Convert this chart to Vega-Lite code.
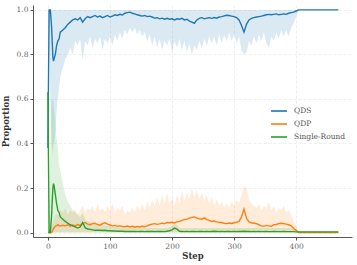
{
  "$schema": "https://vega.github.io/schema/vega-lite/v6.json",
  "autosize": {"type": "none"},
  "padding": {"left": 33, "top": 5, "right": 5, "bottom": 28},
  "width": 319,
  "height": 232,
  "background": "white",
  "config": {
    "font": "DejaVu Serif",
    "view": {"stroke": null},
    "axis": {
      "labelFont": "DejaVu Serif", "labelFontSize": 7.5, "labelColor": "#666",
      "titleFont": "DejaVu Serif", "titleFontSize": 8.5, "titleFontWeight": "bold", "titleColor": "#333",
      "domainColor": "#555", "tickColor": "#555", "tickSize": 3,
      "gridColor": "#ebebeb", "gridDash": [3, 2], "gridWidth": 0.8
    },
    "legend": {"labelFont": "DejaVu Serif", "labelFontSize": 7.5, "labelColor": "#555"}
  },
  "data": {"values": [
    {"s":0,"a":0.38,"al":0.38,"b":0,"bh":0,"c":0.63,"ch":0.63},
    {"s":2,"a":1.0,"al":0.95,"b":0,"bh":0,"c":0.0,"ch":0.05},
    {"s":4,"a":1.0,"al":0.6,"b":0,"bh":0.02,"c":0.0,"ch":0.4},
    {"s":6,"a":0.92,"al":0.4,"b":0.0,"bh":0.03,"c":0.08,"ch":0.6},
    {"s":8,"a":0.79,"al":0.35,"b":0.01,"bh":0.05,"c":0.2,"ch":0.6},
    {"s":9,"a":0.77,"al":0.4,"b":0.02,"bh":0.06,"c":0.22,"ch":0.58},
    {"s":10,"a":0.78,"al":0.4,"b":0.02,"bh":0.06,"c":0.21,"ch":0.55},
    {"s":12,"a":0.8,"al":0.45,"b":0.03,"bh":0.08,"c":0.17,"ch":0.5},
    {"s":14,"a":0.84,"al":0.55,"b":0.03,"bh":0.08,"c":0.13,"ch":0.42},
    {"s":16,"a":0.86,"al":0.6,"b":0.035,"bh":0.08,"c":0.1,"ch":0.38},
    {"s":18,"a":0.87,"al":0.65,"b":0.03,"bh":0.09,"c":0.09,"ch":0.3},
    {"s":20,"a":0.90,"al":0.70,"b":0.030,"bh":0.10,"c":0.070,"ch":0.28},
    {"s":24,"a":0.91,"al":0.74,"b":0.033,"bh":0.09,"c":0.060,"ch":0.22},
    {"s":28,"a":0.92,"al":0.78,"b":0.030,"bh":0.11,"c":0.050,"ch":0.17},
    {"s":32,"a":0.935,"al":0.80,"b":0.035,"bh":0.08,"c":0.042,"ch":0.14},
    {"s":36,"a":0.945,"al":0.83,"b":0.028,"bh":0.10,"c":0.035,"ch":0.12},
    {"s":40,"a":0.955,"al":0.80,"b":0.034,"bh":0.09,"c":0.030,"ch":0.10},
    {"s":44,"a":0.96,"al":0.86,"b":0.030,"bh":0.11,"c":0.025,"ch":0.09},
    {"s":48,"a":0.955,"al":0.84,"b":0.036,"bh":0.08,"c":0.020,"ch":0.08},
    {"s":52,"a":0.965,"al":0.87,"b":0.032,"bh":0.10,"c":0.025,"ch":0.07},
    {"s":56,"a":0.945,"al":0.77,"b":0.040,"bh":0.12,"c":0.045,"ch":0.09},
    {"s":60,"a":0.96,"al":0.86,"b":0.045,"bh":0.09,"c":0.022,"ch":0.06},
    {"s":64,"a":0.97,"al":0.84,"b":0.038,"bh":0.11,"c":0.016,"ch":0.05},
    {"s":68,"a":0.965,"al":0.88,"b":0.035,"bh":0.10,"c":0.014,"ch":0.05},
    {"s":72,"a":0.97,"al":0.83,"b":0.040,"bh":0.12,"c":0.012,"ch":0.045},
    {"s":76,"a":0.975,"al":0.87,"b":0.042,"bh":0.09,"c":0.010,"ch":0.04},
    {"s":80,"a":0.968,"al":0.85,"b":0.036,"bh":0.13,"c":0.011,"ch":0.04},
    {"s":84,"a":0.972,"al":0.88,"b":0.033,"bh":0.10,"c":0.010,"ch":0.035},
    {"s":88,"a":0.965,"al":0.82,"b":0.040,"bh":0.11,"c":0.009,"ch":0.035},
    {"s":92,"a":0.97,"al":0.87,"b":0.044,"bh":0.09,"c":0.010,"ch":0.03},
    {"s":96,"a":0.975,"al":0.85,"b":0.038,"bh":0.12,"c":0.008,"ch":0.03},
    {"s":100,"a":0.968,"al":0.88,"b":0.034,"bh":0.10,"c":0.008,"ch":0.03},
    {"s":104,"a":0.972,"al":0.84,"b":0.030,"bh":0.13,"c":0.007,"ch":0.025},
    {"s":108,"a":0.978,"al":0.89,"b":0.032,"bh":0.09,"c":0.007,"ch":0.025},
    {"s":112,"a":0.975,"al":0.86,"b":0.028,"bh":0.11,"c":0.006,"ch":0.025},
    {"s":116,"a":0.98,"al":0.90,"b":0.030,"bh":0.10,"c":0.006,"ch":0.02},
    {"s":120,"a":0.977,"al":0.87,"b":0.027,"bh":0.12,"c":0.006,"ch":0.02},
    {"s":124,"a":0.985,"al":0.91,"b":0.026,"bh":0.08,"c":0.005,"ch":0.02},
    {"s":128,"a":0.988,"al":0.89,"b":0.029,"bh":0.10,"c":0.005,"ch":0.02},
    {"s":132,"a":0.99,"al":0.92,"b":0.025,"bh":0.09,"c":0.005,"ch":0.02},
    {"s":136,"a":0.985,"al":0.90,"b":0.028,"bh":0.11,"c":0.005,"ch":0.02},
    {"s":140,"a":0.982,"al":0.92,"b":0.024,"bh":0.09,"c":0.005,"ch":0.02},
    {"s":144,"a":0.978,"al":0.89,"b":0.027,"bh":0.12,"c":0.004,"ch":0.02},
    {"s":148,"a":0.975,"al":0.91,"b":0.025,"bh":0.10,"c":0.005,"ch":0.02},
    {"s":152,"a":0.972,"al":0.88,"b":0.028,"bh":0.13,"c":0.005,"ch":0.02},
    {"s":156,"a":0.975,"al":0.90,"b":0.026,"bh":0.10,"c":0.004,"ch":0.02},
    {"s":160,"a":0.97,"al":0.86,"b":0.030,"bh":0.14,"c":0.005,"ch":0.02},
    {"s":164,"a":0.972,"al":0.89,"b":0.035,"bh":0.11,"c":0.005,"ch":0.02},
    {"s":168,"a":0.968,"al":0.84,"b":0.038,"bh":0.15,"c":0.005,"ch":0.02},
    {"s":172,"a":0.963,"al":0.88,"b":0.040,"bh":0.12,"c":0.004,"ch":0.02},
    {"s":176,"a":0.965,"al":0.83,"b":0.037,"bh":0.16,"c":0.005,"ch":0.02},
    {"s":180,"a":0.96,"al":0.87,"b":0.039,"bh":0.12,"c":0.005,"ch":0.02},
    {"s":184,"a":0.963,"al":0.82,"b":0.042,"bh":0.17,"c":0.005,"ch":0.02},
    {"s":188,"a":0.958,"al":0.86,"b":0.040,"bh":0.13,"c":0.004,"ch":0.02},
    {"s":192,"a":0.962,"al":0.84,"b":0.045,"bh":0.18,"c":0.006,"ch":0.02},
    {"s":196,"a":0.958,"al":0.87,"b":0.044,"bh":0.13,"c":0.008,"ch":0.025},
    {"s":200,"a":0.96,"al":0.81,"b":0.046,"bh":0.16,"c":0.012,"ch":0.03},
    {"s":204,"a":0.955,"al":0.86,"b":0.043,"bh":0.12,"c":0.020,"ch":0.04},
    {"s":208,"a":0.96,"al":0.83,"b":0.048,"bh":0.17,"c":0.015,"ch":0.035},
    {"s":212,"a":0.958,"al":0.87,"b":0.050,"bh":0.13,"c":0.006,"ch":0.02},
    {"s":216,"a":0.962,"al":0.82,"b":0.055,"bh":0.19,"c":0.005,"ch":0.02},
    {"s":220,"a":0.955,"al":0.86,"b":0.058,"bh":0.14,"c":0.004,"ch":0.02},
    {"s":224,"a":0.958,"al":0.81,"b":0.060,"bh":0.18,"c":0.005,"ch":0.02},
    {"s":228,"a":0.95,"al":0.85,"b":0.065,"bh":0.15,"c":0.004,"ch":0.02},
    {"s":232,"a":0.945,"al":0.80,"b":0.068,"bh":0.20,"c":0.005,"ch":0.02},
    {"s":236,"a":0.94,"al":0.84,"b":0.070,"bh":0.16,"c":0.005,"ch":0.02},
    {"s":240,"a":0.955,"al":0.82,"b":0.065,"bh":0.19,"c":0.004,"ch":0.02},
    {"s":244,"a":0.962,"al":0.86,"b":0.062,"bh":0.15,"c":0.005,"ch":0.02},
    {"s":248,"a":0.965,"al":0.83,"b":0.060,"bh":0.18,"c":0.005,"ch":0.02},
    {"s":252,"a":0.96,"al":0.87,"b":0.066,"bh":0.14,"c":0.004,"ch":0.02},
    {"s":256,"a":0.963,"al":0.84,"b":0.058,"bh":0.17,"c":0.005,"ch":0.02},
    {"s":260,"a":0.965,"al":0.88,"b":0.055,"bh":0.13,"c":0.004,"ch":0.02},
    {"s":264,"a":0.962,"al":0.85,"b":0.050,"bh":0.16,"c":0.005,"ch":0.02},
    {"s":268,"a":0.966,"al":0.88,"b":0.052,"bh":0.12,"c":0.006,"ch":0.02},
    {"s":272,"a":0.963,"al":0.84,"b":0.048,"bh":0.15,"c":0.005,"ch":0.02},
    {"s":276,"a":0.968,"al":0.89,"b":0.046,"bh":0.12,"c":0.004,"ch":0.02},
    {"s":280,"a":0.97,"al":0.85,"b":0.045,"bh":0.14,"c":0.005,"ch":0.02},
    {"s":284,"a":0.973,"al":0.89,"b":0.042,"bh":0.11,"c":0.004,"ch":0.02},
    {"s":288,"a":0.976,"al":0.86,"b":0.040,"bh":0.13,"c":0.005,"ch":0.02},
    {"s":292,"a":0.975,"al":0.90,"b":0.043,"bh":0.11,"c":0.005,"ch":0.02},
    {"s":296,"a":0.972,"al":0.86,"b":0.041,"bh":0.14,"c":0.004,"ch":0.02},
    {"s":300,"a":0.97,"al":0.89,"b":0.044,"bh":0.12,"c":0.005,"ch":0.02},
    {"s":304,"a":0.965,"al":0.85,"b":0.046,"bh":0.15,"c":0.004,"ch":0.02},
    {"s":308,"a":0.955,"al":0.88,"b":0.050,"bh":0.13,"c":0.005,"ch":0.02},
    {"s":312,"a":0.93,"al":0.82,"b":0.070,"bh":0.17,"c":0.005,"ch":0.02},
    {"s":316,"a":0.90,"al":0.80,"b":0.105,"bh":0.21,"c":0.006,"ch":0.02},
    {"s":320,"a":0.935,"al":0.81,"b":0.065,"bh":0.20,"c":0.005,"ch":0.02},
    {"s":324,"a":0.955,"al":0.86,"b":0.048,"bh":0.15,"c":0.005,"ch":0.02},
    {"s":328,"a":0.962,"al":0.84,"b":0.044,"bh":0.13,"c":0.004,"ch":0.02},
    {"s":332,"a":0.965,"al":0.88,"b":0.042,"bh":0.12,"c":0.005,"ch":0.02},
    {"s":336,"a":0.968,"al":0.85,"b":0.040,"bh":0.11,"c":0.004,"ch":0.02},
    {"s":340,"a":0.97,"al":0.89,"b":0.035,"bh":0.13,"c":0.005,"ch":0.02},
    {"s":344,"a":0.972,"al":0.86,"b":0.030,"bh":0.10,"c":0.004,"ch":0.02},
    {"s":348,"a":0.975,"al":0.90,"b":0.028,"bh":0.12,"c":0.004,"ch":0.02},
    {"s":352,"a":0.978,"al":0.85,"b":0.032,"bh":0.11,"c":0.005,"ch":0.02},
    {"s":356,"a":0.98,"al":0.83,"b":0.030,"bh":0.14,"c":0.004,"ch":0.02},
    {"s":360,"a":0.978,"al":0.88,"b":0.028,"bh":0.10,"c":0.004,"ch":0.02},
    {"s":364,"a":0.98,"al":0.86,"b":0.035,"bh":0.12,"c":0.005,"ch":0.02},
    {"s":368,"a":0.982,"al":0.90,"b":0.036,"bh":0.09,"c":0.004,"ch":0.02},
    {"s":372,"a":0.978,"al":0.87,"b":0.040,"bh":0.11,"c":0.004,"ch":0.02},
    {"s":376,"a":0.98,"al":0.91,"b":0.042,"bh":0.10,"c":0.004,"ch":0.02},
    {"s":380,"a":0.982,"al":0.88,"b":0.040,"bh":0.12,"c":0.005,"ch":0.02},
    {"s":384,"a":0.98,"al":0.91,"b":0.038,"bh":0.09,"c":0.004,"ch":0.02},
    {"s":388,"a":0.985,"al":0.88,"b":0.035,"bh":0.10,"c":0.004,"ch":0.02},
    {"s":392,"a":0.988,"al":0.92,"b":0.030,"bh":0.08,"c":0.004,"ch":0.02},
    {"s":396,"a":0.99,"al":0.94,"b":0.018,"bh":0.05,"c":0.004,"ch":0.015},
    {"s":400,"a":0.995,"al":0.97,"b":0.010,"bh":0.03,"c":0.003,"ch":0.01},
    {"s":404,"a":1.0,"al":1.0,"b":0,"bh":0,"c":0.003,"ch":0.005},
    {"s":410,"a":1.0,"al":1.0,"b":0,"bh":0,"c":0.003,"ch":0.005},
    {"s":420,"a":1.0,"al":1.0,"b":0,"bh":0,"c":0.003,"ch":0.005},
    {"s":430,"a":1.0,"al":1.0,"b":0,"bh":0,"c":0.003,"ch":0.005},
    {"s":440,"a":1.0,"al":1.0,"b":0,"bh":0,"c":0.003,"ch":0.005},
    {"s":450,"a":1.0,"al":1.0,"b":0,"bh":0,"c":0.003,"ch":0.005},
    {"s":460,"a":1.0,"al":1.0,"b":0,"bh":0,"c":0.003,"ch":0.005},
    {"s":468,"a":1.0,"al":1.0,"b":0,"bh":0,"c":0.003,"ch":0.005}
  ]},
  "encoding": {
    "x": {"field": "s", "type": "quantitative", "title": "Step",
      "scale": {"domain": [-24, 490], "nice": false, "zero": false},
      "axis": {"values": [0, 100, 200, 300, 400], "labelPadding": 2, "titlePadding": 2}}
  },
  "layer": [
    {"mark": {"type": "area", "opacity": 0.16, "color": "#1f77b4"},
     "encoding": {
       "y": {"field": "al", "type": "quantitative", "title": "Proportion",
         "scale": {"domain": [-0.02, 1.022], "nice": false, "zero": false},
         "axis": {"values": [0, 0.2, 0.4, 0.6, 0.8, 1.0], "format": ".1f", "labelPadding": 2, "titlePadding": 6}},
       "y2": {"datum": 1}}},
    {"mark": {"type": "area", "opacity": 0.15, "color": "#ff7f0e"},
     "encoding": {"y": {"field": "bh", "type": "quantitative"}, "y2": {"datum": 0}}},
    {"mark": {"type": "area", "opacity": 0.15, "color": "#2ca02c"},
     "encoding": {"y": {"field": "ch", "type": "quantitative"}, "y2": {"datum": 0}}},
    {"mark": {"type": "line", "strokeWidth": 1.4},
     "encoding": {"y": {"field": "a", "type": "quantitative"}, "color": {"datum": "QDS"}}},
    {"mark": {"type": "line", "strokeWidth": 1.4},
     "encoding": {"y": {"field": "b", "type": "quantitative"}, "color": {"datum": "QDP"}}},
    {"mark": {"type": "line", "strokeWidth": 1.4},
     "encoding": {"y": {"field": "c", "type": "quantitative"},
       "color": {"datum": "Single-Round", "title": null,
         "scale": {"domain": ["QDS", "QDP", "Single-Round"], "range": ["#1f77b4", "#ff7f0e", "#2ca02c"]},
         "legend": {"orient": "none", "legendX": 237, "legendY": 97, "symbolType": "stroke",
           "symbolStrokeWidth": 1.6, "symbolSize": 256, "rowPadding": -4, "labelOffset": 6}}}}
  ]
}
